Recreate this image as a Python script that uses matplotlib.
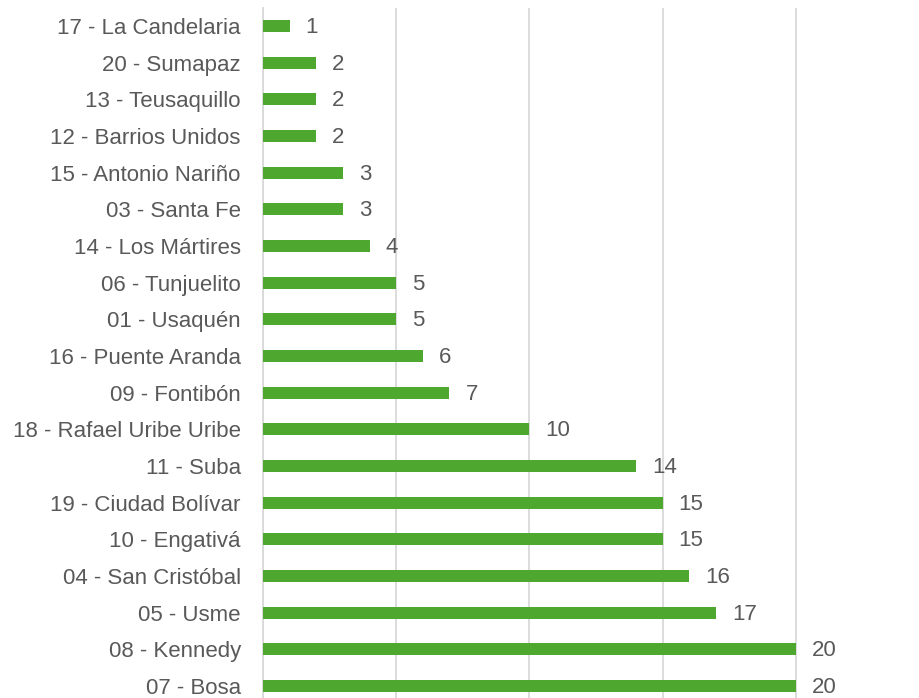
import matplotlib
matplotlib.use("Agg")
import matplotlib.pyplot as plt

categories = [
    "17 - La Candelaria", "20 - Sumapaz", "13 - Teusaquillo", "12 - Barrios Unidos",
    "15 - Antonio Nariño", "03 - Santa Fe", "14 - Los Mártires", "06 - Tunjuelito",
    "01 - Usaquén", "16 - Puente Aranda", "09 - Fontibón", "18 - Rafael Uribe Uribe",
    "11 - Suba", "19 - Ciudad Bolívar", "10 - Engativá", "04 - San Cristóbal",
    "05 - Usme", "08 - Kennedy", "07 - Bosa",
]
values = [1, 2, 2, 2, 3, 3, 4, 5, 5, 6, 7, 10, 14, 15, 15, 16, 17, 20, 20]
x_ticks = [0, 5, 10, 15, 20, 25]

plt.rcParams['font.family'] = ['Liberation Sans', 'DejaVu Sans']

W, H = 919, 698
fig = plt.figure(figsize=(W / 100, H / 100), dpi=100)
left = 263 / W
width = (929 - 263) / W
top_px, bot_px = 7.7, 704.3
ax = fig.add_axes([left, 1 - bot_px / H, width, (bot_px - top_px) / H])

green = "#4EA72E"
grid_c = "#D9D9D9"
text_c = "#595959"

pos = list(range(len(categories)))
ax.barh(pos, values, height=0.335, color=green, zorder=3)
ax.set_ylim(len(categories) - 0.5, -0.5)
ax.set_xlim(0, 25)
ax.set_xticks(x_ticks)
ax.xaxis.grid(True, color=grid_c, linewidth=1.3, zorder=0)
ax.tick_params(axis='x', length=0, labelbottom=False)
ax.tick_params(axis='y', length=0, pad=16, labelsize=16, labelcolor=text_c)
ax.set_yticks(pos)
ax.set_yticklabels(categories)
for s in ["top", "right", "bottom"]:
    ax.spines[s].set_visible(False)
ax.spines["left"].set_color(grid_c)
ax.spines["left"].set_linewidth(1.3)

for p, v in zip(pos, values):
    ax.annotate(str(v), (v, p), xytext=(16, 1), textcoords="offset pixels",
                va="center_baseline", ha="left", fontsize=16, color=text_c, zorder=4)

fig.savefig("out.png", dpi=100)
